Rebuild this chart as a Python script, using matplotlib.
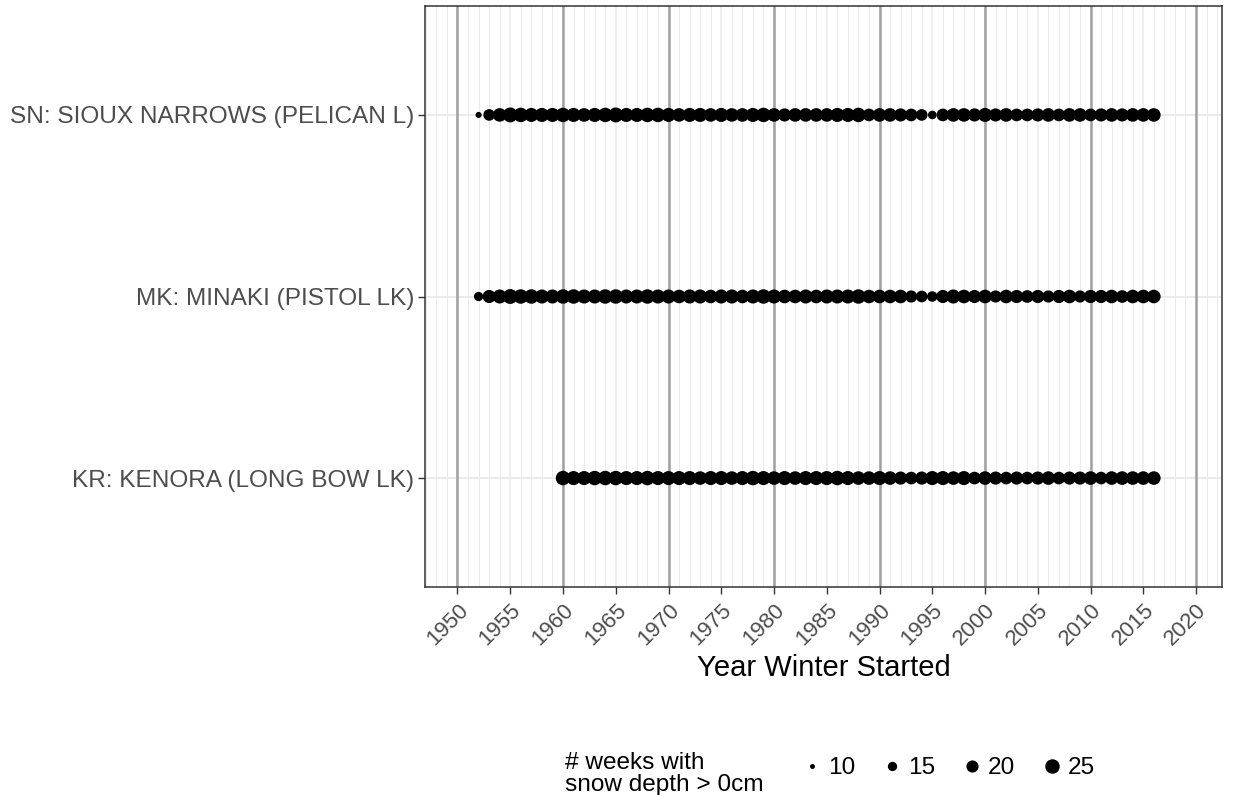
import numpy as np
import matplotlib
matplotlib.use("Agg")
import matplotlib.pyplot as plt
from matplotlib.lines import Line2D

plt.rcParams['font.family'] = ['Liberation Sans', 'DejaVu Sans']

# stations, bottom to top
stations = ['KR: KENORA (LONG BOW LK)', 'MK: MINAKI (PISTOL LK)',
            'SN: SIOUX NARROWS (PELICAN L)']
start_years = [1960, 1952, 1952]

# weeks with snow depth > 0cm, one value per winter from the start year to 2016
kr_weeks = [25, 24, 24, 25, 25, 25, 24, 24, 25, 24,
            24, 24, 24, 23, 24, 24, 23, 24, 25, 24,
            23, 24, 23, 24, 24, 24, 25, 24, 23, 23,
            24, 23, 22, 21, 22, 24, 24, 23, 24, 21,
            23, 22, 21, 22, 21, 22, 23, 21, 22, 22,
            23, 21, 23, 23, 23, 23, 23]
mk_weeks = [15, 22, 24, 26, 25, 25, 24, 24, 25, 25,
            24, 24, 25, 25, 24, 24, 25, 24, 24, 23,
            24, 24, 23, 24, 24, 23, 24, 25, 24, 23,
            23, 24, 23, 24, 24, 24, 25, 23, 23, 23,
            23, 20, 19, 17, 22, 24, 23, 22, 23, 20,
            23, 22, 21, 22, 20, 22, 23, 20, 22, 22,
            23, 21, 23, 23, 23]
sn_weeks = [11, 19, 23, 26, 25, 24, 24, 24, 25, 24,
            23, 24, 25, 26, 24, 24, 25, 25, 24, 23,
            24, 24, 23, 24, 23, 23, 24, 25, 23, 22,
            23, 23, 23, 23, 24, 24, 25, 21, 23, 23,
            22, 21, 19, 14, 21, 23, 23, 22, 24, 22,
            23, 21, 21, 22, 23, 21, 23, 23, 21, 22,
            23, 22, 23, 23, 23]
all_weeks = [kr_weeks, mk_weeks, sn_weeks]

legend_weeks = [10, 15, 20, 25]
x_breaks = list(range(1950, 2021, 5))
decades = list(range(1950, 2021, 10))


def marker_diam(w):
    # point area grows linearly with weeks (ggplot scale_size style), in points
    return 0.72 * np.sqrt(12.3 * (np.asarray(w, dtype=float) - 7.97))


W, H = 1233, 795
fig = plt.figure(figsize=(W / 100, H / 100), dpi=100)
ax = fig.add_axes([425 / W, 1 - 587 / H, (1222 - 425) / W, (587 - 6) / H])

for i, (yr0, weeks) in enumerate(zip(start_years, all_weeks)):
    years = np.arange(yr0, yr0 + len(weeks))
    ax.scatter(years, np.full(len(weeks), i + 1), s=marker_diam(weeks) ** 2,
               color='black', linewidths=0, zorder=3)

for d in decades:
    ax.axvline(d, color='#a0a0a0', lw=1.8, zorder=1)

ax.set_xlim(1946.92, 2022.46)
ax.set_ylim(0.4, 3.6)
ax.set_xticks(x_breaks)
ax.set_xticks(np.arange(1947, 2023), minor=True)
ax.set_yticks([1, 2, 3])
ax.set_yticklabels(stations)
ax.grid(axis='x', which='minor', color='#ebebeb', lw=0.7, zorder=0)
ax.grid(axis='x', which='major', color='#ebebeb', lw=1.1, zorder=0)
ax.grid(axis='y', which='major', color='#ebebeb', lw=1.4, zorder=0)
ax.set_axisbelow(True)

ax.tick_params(which='major', length=5, width=1, color='#333333',
               labelcolor='#4d4d4d', labelsize=17.6, pad=3)
ax.tick_params(axis='x', which='major', labelsize=16, pad=4)
ax.tick_params(which='minor', length=0)
plt.setp(ax.get_xticklabels(), rotation=45, ha='right', rotation_mode='anchor')
for sp in ax.spines.values():
    sp.set_color('#333333')
    sp.set_linewidth(1.1)

ax.set_xlabel('Year Winter Started', fontsize=21, color='black', labelpad=3)

handles = [Line2D([], [], marker='o', ls='', color='black', markeredgewidth=0,
                  markersize=marker_diam(w)) for w in legend_weeks]
fig.legend(handles, [str(w) for w in legend_weeks], loc='center left',
           bbox_to_anchor=(778 / W, 1 - 768 / H), ncol=4, frameon=False,
           fontsize=17.6, handletextpad=0.15, columnspacing=1.0, handlelength=1.0)
fig.text(565 / W, 1 - 774 / H, '# weeks with\nsnow depth > 0cm', fontsize=17.6,
         ha='left', va='center', linespacing=1.0)

fig.savefig('out.png', dpi=100)
